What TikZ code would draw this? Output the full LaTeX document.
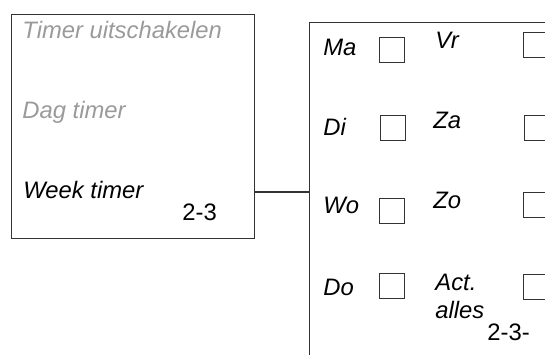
\documentclass[tikz,border=0pt]{standalone}
\usepackage{fontspec}
\setmainfont{Liberation Sans}
\usepackage{xcolor}
\definecolor{framegrey}{HTML}{333333}
\definecolor{dimtext}{HTML}{9A9A9A}

\begin{document}
\begin{tikzpicture}[
  x=0.5pt, y=-0.5pt,
  menubox/.style={rectangle, draw=framegrey, line width=0.6pt, anchor=north west, inner sep=0pt},
  item/.style={anchor=base west, inner sep=0pt, font=\fontsize{11.9}{14}\selectfont\itshape, text=black},
  dimitem/.style={item, text=dimtext},
  pageno/.style={anchor=base west, inner sep=0pt, font=\fontsize{11.9}{14}\selectfont},
  checkbox/.style={rectangle, draw=framegrey, line width=0.6pt, anchor=north west, minimum size=12.5pt, inner sep=0pt},
  link/.style={draw=framegrey, line width=0.6pt},
]
  \useasboundingbox (0,0) rectangle (545,354);
  \clip (0,0) rectangle (545,354);
  % menu screen
  \node[menubox, minimum width=121.5pt, minimum height=112pt] (menu) at (11,14) {};
  \node[dimitem] (off) at (22,38) {Timer uitschakelen};
  \node[dimitem] (day) at (22,118) {Dag timer};
  \node[item] (week) at (23,198) {Week timer};
  \node[pageno] (menuno) at (182,220) {2-3};
  % week days screen
  \node[menubox, minimum width=150pt, minimum height=200pt] (days) at (309,22) {};
  \coordinate (weekout) at (menu.east |- 0,192);
  \draw[link] (weekout) -- (weekout -| days.west);
  \node[item] (ma) at (323,55) {Ma};
  \node[item] (di) at (323,135) {Di};
  \node[item] (wo) at (323,213) {Wo};
  \node[item] (do) at (323,295) {Do};
  \node[checkbox] (mabox) at (379,37) {};
  \node[checkbox] (dibox) at (380,115) {};
  \node[checkbox] (wobox) at (379,198) {};
  \node[checkbox] (dobox) at (379,273) {};
  \node[item] (vr) at (435,48) {Vr};
  \node[item] (za) at (433,128) {Za};
  \node[item] (zo) at (433,208) {Zo};
  \node[item, align=left] (all) at (435,318) {Act.\\alles};
  \node[checkbox] (vrbox) at (523,32) {};
  \node[checkbox] (zabox) at (524,115) {};
  \node[checkbox] (zobox) at (523,192) {};
  \node[checkbox] (allbox) at (523,274) {};
  \node[pageno] (daysno) at (487,340) {2-3-};
\end{tikzpicture}
\end{document}
